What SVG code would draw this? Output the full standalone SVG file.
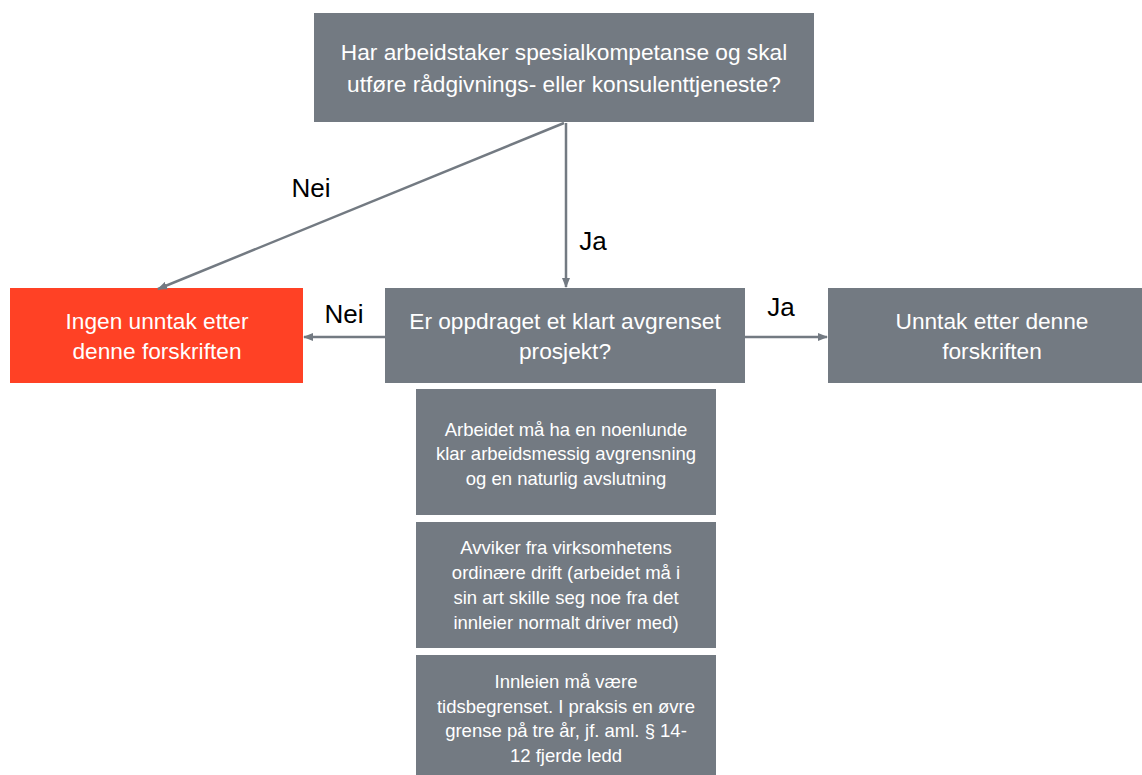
<svg xmlns="http://www.w3.org/2000/svg" width="1142" height="775" viewBox="0 0 1142 775">
<defs>
<marker id="ah" markerWidth="10" markerHeight="8" refX="9" refY="4" orient="auto" markerUnits="userSpaceOnUse">
<path d="M0,0 L10,4 L0,8 Z" fill="#737a82"/>
</marker>
<style>
.box{fill:#737a82}
.red{fill:#ff4125}
.t{font-family:"Liberation Sans",Arial,sans-serif;fill:#ffffff;text-anchor:middle}
.big{font-size:22.7px}
.small{font-size:18.5px}
.lbl{font-family:"Liberation Sans",Arial,sans-serif;font-size:26px;fill:#000000;text-anchor:middle}
.c{stroke:#737a82;stroke-width:2.5;fill:none;marker-end:url(#ah)}
</style>
</defs>
<rect width="1142" height="775" fill="#ffffff"/>
<g id="q1">
<rect class="box" x="314" y="13" width="500" height="109"/>
<text class="t big" x="564" y="60">Har arbeidstaker spesialkompetanse og skal</text>
<text class="t big" x="564" y="92">utføre rådgivnings- eller konsulenttjeneste?</text>
</g>
<g id="no1">
<rect class="red" x="10" y="288" width="293" height="95"/>
<text class="t big" x="157" y="329">Ingen unntak etter</text>
<text class="t big" x="157" y="359">denne forskriften</text>
</g>
<g id="q2">
<rect class="box" x="385" y="288" width="360" height="95"/>
<text class="t big" x="565" y="329">Er oppdraget et klart avgrenset</text>
<text class="t big" x="565" y="359">prosjekt?</text>
</g>
<g id="yes">
<rect class="box" x="828" y="288" width="314" height="95"/>
<text class="t big" x="992" y="329">Unntak etter denne</text>
<text class="t big" x="992" y="359">forskriften</text>
</g>
<g id="c1">
<rect class="box" x="416" y="389" width="300" height="126"/>
<text class="t small" x="566" y="436">Arbeidet må ha en noenlunde</text>
<text class="t small" x="566" y="460">klar arbeidsmessig avgrensning</text>
<text class="t small" x="566" y="485">og en naturlig avslutning</text>
</g>
<g id="c2">
<rect class="box" x="416" y="522" width="300" height="126"/>
<text class="t small" x="566" y="554">Avviker fra virksomhetens</text>
<text class="t small" x="566" y="579">ordinære drift (arbeidet må i</text>
<text class="t small" x="566" y="604">sin art skille seg noe fra det</text>
<text class="t small" x="566" y="629">innleier normalt driver med)</text>
</g>
<g id="c3">
<rect class="box" x="416" y="655" width="300" height="120"/>
<text class="t small" x="566" y="688">Innleien må være</text>
<text class="t small" x="566" y="713">tidsbegrenset. I praksis en øvre</text>
<text class="t small" x="566" y="737">grense på tre år, jf. aml. § 14-</text>
<text class="t small" x="566" y="762">12 fjerde ledd</text>
</g>
<g id="connectors">
<line class="c" x1="564" y1="123" x2="158" y2="289"/>
<line class="c" x1="566" y1="123" x2="566" y2="287"/>
<line class="c" x1="385" y1="337" x2="304" y2="337"/>
<line class="c" x1="745" y1="337" x2="827" y2="337"/>
<text class="lbl" x="311" y="197">Nei</text>
<text class="lbl" x="593" y="250">Ja</text>
<text class="lbl" x="344" y="323">Nei</text>
<text class="lbl" x="781" y="316">Ja</text>
</g>
</svg>
